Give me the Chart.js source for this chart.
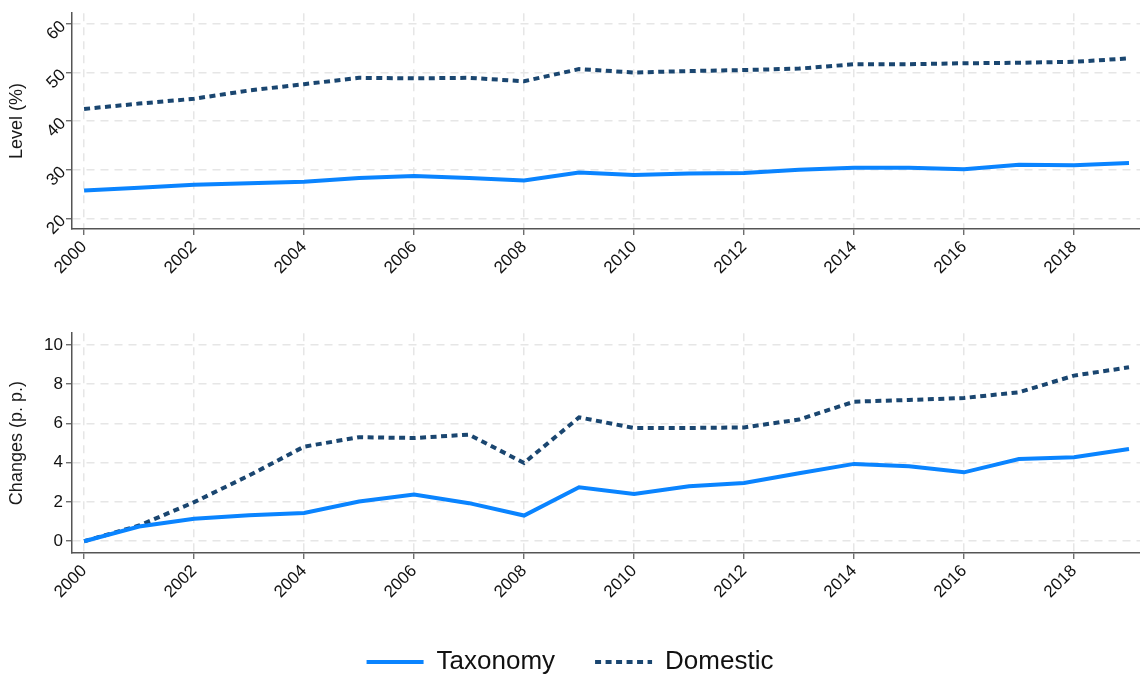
<!DOCTYPE html>
<html>
<head>
<meta charset="utf-8">
<script src="https://cdn.jsdelivr.net/npm/chart.js"></script>
<style>
    body {
        margin: 0;
        padding: 0;
        background: #ffffff;
        width: 1140px;
        height: 678px;
        overflow: hidden;
        position: relative;
    }
    .panel {
        position: absolute;
        left: 0;
        width: 1140px;
    }
    #levelBox { top: 0; height: 290px; }
    #changeBox { top: 320px; height: 365px; }
</style>
</head>
<body>
<div class="panel" id="levelBox"><canvas id="levelChart"></canvas></div>
<div class="panel" id="changeBox"><canvas id="changeChart"></canvas></div>
<script>
// Years and series
const years = [2000, 2001, 2002, 2003, 2004, 2005, 2006, 2007, 2008, 2009,
               2010, 2011, 2012, 2013, 2014, 2015, 2016, 2017, 2018, 2019];
const levelTaxonomy = [25.7, 26.3, 26.9, 27.2, 27.5, 28.3, 28.7, 28.3, 27.8, 29.4,
                       28.9, 29.2, 29.3, 30.0, 30.4, 30.4, 30.1, 31.0, 30.9, 31.4];
const levelDomestic = [42.5, 43.6, 44.6, 46.3, 47.6, 48.9, 48.8, 48.9, 48.2, 50.7,
                       50.0, 50.3, 50.5, 50.8, 51.7, 51.7, 51.9, 52.0, 52.2, 52.9];
const changeTaxonomy = [0, 0.75, 1.14, 1.32, 1.44, 2.02, 2.38, 1.94, 1.31, 2.75,
                        2.41, 2.8, 2.97, 3.46, 3.94, 3.82, 3.51, 4.19, 4.28, 4.7];
const changeDomestic = [0, 0.8, 1.99, 3.35, 4.82, 5.3, 5.26, 5.43, 3.99, 6.31,
                        5.77, 5.77, 5.8, 6.2, 7.11, 7.2, 7.3, 7.59, 8.44, 8.86];

// Tick labels
const xTicks = [2000, 2002, 2004, 2006, 2008, 2010, 2012, 2014, 2016, 2018];
const levelTicks = [20, 30, 40, 50, 60];
const changeTicks = [0, 2, 4, 6, 8, 10];

const seriesNames = ['Taxonomy', 'Domestic'];
const FONT = "'Liberation Sans', Arial, sans-serif";
const BLUE = '#0a84ff';
const NAVY = '#1a4670';
const GRID = '#e6e6e6';
const AXIS = '#555555';
const DOTS = [6, 4.5];

function points(values) {
    return years.map((yr, i) => ({ x: yr, y: values[i] }));
}

function datasets(taxonomy, domestic) {
    return [
        {
            label: seriesNames[0],
            data: points(taxonomy),
            borderColor: BLUE,
            backgroundColor: BLUE,
            borderWidth: 4,
            pointRadius: 0,
            pointStyle: 'line',
            tension: 0
        },
        {
            label: seriesNames[1],
            data: points(domestic),
            borderColor: NAVY,
            backgroundColor: NAVY,
            borderWidth: 4,
            borderDash: DOTS,
            pointRadius: 0,
            pointStyle: 'line',
            tension: 0
        }
    ];
}

// legend entries drawn as short line samples, keeping the dotted pattern
function legendLabels(chart) {
    return chart.data.datasets.map((ds, i) => ({
        text: ds.label,
        datasetIndex: i,
        fillStyle: ds.borderColor,
        strokeStyle: ds.borderColor,
        lineWidth: ds.borderWidth,
        lineDash: ds.borderDash || [],
        lineCap: 'butt',
        pointStyle: 'line',
        hidden: false,
        fontColor: '#111111'
    }));
}

function buildPanel(canvasId, cfg) {
    const ctx = document.getElementById(canvasId).getContext('2d');
    return new Chart(ctx, {
        type: 'line',
        data: { datasets: datasets(cfg.taxonomy, cfg.domestic) },
        options: {
            responsive: true,
            maintainAspectRatio: false,
            animation: false,
            layout: { padding: { top: cfg.padTop, right: 0, left: 0, bottom: 0 } },
            plugins: {
                tooltip: { enabled: false },
                legend: cfg.legend || { display: false }
            },
            scales: {
                x: {
                    type: 'linear',
                    min: 1999.78,
                    max: 2019.2,
                    afterBuildTicks: scale => { scale.ticks = xTicks.map(v => ({ value: v })); },
                    afterFit: scale => { scale.height = cfg.xHeight; },
                    ticks: {
                        minRotation: 45,
                        maxRotation: 45,
                        autoSkip: false,
                        padding: 2,
                        color: '#111111',
                        font: { family: FONT, size: 17 },
                        callback: v => String(v)
                    },
                    grid: {
                        color: GRID,
                        lineWidth: 1.5,
                        tickLength: 6,
                        tickColor: AXIS,
                        tickWidth: 1.2
                    },
                    border: { display: true, color: AXIS, width: 1.5, dash: [8, 6] }
                },
                y: {
                    min: cfg.yMin,
                    max: cfg.yMax,
                    afterBuildTicks: scale => { scale.ticks = cfg.yTicks.map(v => ({ value: v })); },
                    afterFit: scale => { scale.width = 72; },
                    ticks: {
                        minRotation: cfg.yRotation,
                        maxRotation: 90,
                        padding: 3,
                        color: '#111111',
                        font: { family: FONT, size: 17 },
                        callback: v => String(v)
                    },
                    title: {
                        display: true,
                        text: cfg.yTitle,
                        color: '#1a1a1a',
                        font: { family: FONT, size: 18 },
                        padding: { top: 6, bottom: 0 }
                    },
                    grid: {
                        color: GRID,
                        lineWidth: 1.5,
                        tickLength: 6,
                        tickColor: AXIS,
                        tickWidth: 1.2
                    },
                    border: { display: true, color: AXIS, width: 1.5, dash: [8, 6] }
                }
            }
        }
    });
}

// Level panel
buildPanel('levelChart', {
    taxonomy: levelTaxonomy,
    domestic: levelDomestic,
    yMin: 17.8,
    yMax: 62.2,
    yTicks: levelTicks,
    yRotation: 45,
    yTitle: 'Level (%)',
    padTop: 10,
    xHeight: 61
});

// Changes panel with the shared legend underneath
buildPanel('changeChart', {
    taxonomy: changeTaxonomy,
    domestic: changeDomestic,
    yMin: -0.6,
    yMax: 10.6,
    yTicks: changeTicks,
    yRotation: 0,
    yTitle: 'Changes (p. p.)',
    padTop: 13,
    xHeight: 56,
    legend: {
        display: true,
        position: 'bottom',
        labels: {
            usePointStyle: true,
            pointStyleWidth: 57,
            boxHeight: 4,
            padding: 40,
            color: '#111111',
            font: { family: FONT, size: 26 },
            generateLabels: legendLabels
        }
    }
});
</script>
</body>
</html>
